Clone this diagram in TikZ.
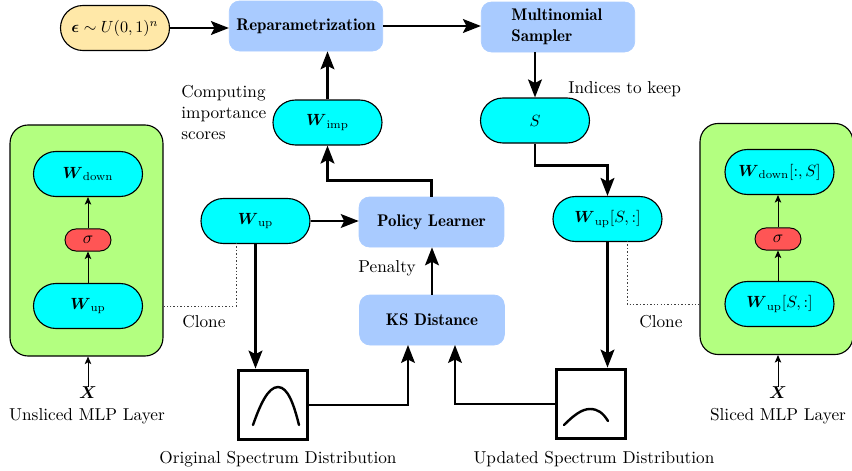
\documentclass[tikz,border=0pt]{standalone}
\usepackage{amsmath}
\usetikzlibrary{arrows.meta,calc}
\definecolor{pillblue}{HTML}{A9CBFF}
\definecolor{panelgreen}{HTML}{B3FF80}
\definecolor{sigred}{HTML}{FF5555}
\definecolor{noiseyellow}{HTML}{FFE8A8}
\definecolor{pillcyan}{HTML}{00FFFF}
\newcommand{\bW}{\boldsymbol{W}}
\newcommand{\pillmath}[1]{\scalebox{0.94}{$#1$}}
\tikzset{
  pill/.style={draw=black,line width=0.65pt,fill=pillcyan,rounded corners=13pt,minimum width=63.2pt,minimum height=26.1pt,inner sep=0pt},
  noisepill/.style={pill,fill=noiseyellow},
  blockbox/.style={fill=pillblue,draw=pillblue,rounded corners=6pt,minimum width=89pt,minimum height=29pt,inner sep=0pt,font=\fontsize{9.8}{12}\fontseries{b}\selectfont,align=left},
  smallblock/.style={blockbox,minimum width=84pt},
  panel/.style={draw=black,line width=0.65pt,fill=panelgreen,rounded corners=10.5pt,minimum width=88.7pt,minimum height=134pt,inner sep=0pt},
  activ/.style={draw=black,line width=0.55pt,fill=sigred,rounded corners=6.4pt,minimum width=26.7pt,minimum height=12.8pt,inner sep=0pt},
  plotbox/.style={draw=black,line width=1.75pt,fill=white,minimum width=40.5pt,minimum height=40.5pt,inner sep=0pt},
  bigarrow/.style={line width=1.4pt,-{Stealth[length=10.4pt,width=8pt,inset=2pt]}},
  smallarrow/.style={line width=0.5pt,-{Stealth[length=4.4pt,width=3.8pt,inset=1.1pt]}},
  clonelink/.style={line width=0.55pt,dash pattern=on 0.8pt off 1.2pt,draw=black!75},
  curve/.style={line width=1.4pt,line cap=round},
  caption/.style={inner sep=0pt}
}
\begin{document}
\begin{tikzpicture}[x=0.58pt,y=-0.58pt]
\useasboundingbox (0,0) rectangle (852,471);
% panels
\node[panel] (lpanel) at (86.5,240.5) {};
\node[panel] (rpanel) at (776.5,239) {};
% top row
\node[noisepill] (eps) at (115,28) {\pillmath{\boldsymbol{\epsilon}\sim U(0,1)^n}};
\node[blockbox] (rep) at (306,26) {Reparametrization};
\node[blockbox,text width=54pt] (multi) at (558,27) {Multinomial\\Sampler};
% pills
\node[pill] (wimp) at (327.5,122.5) {\pillmath{\bW_{\mathrm{imp}}}};
\node[pill] (s) at (535,120.5) {\pillmath{S}};
\node[pill] (wup) at (255.5,221) {\pillmath{\bW_{\mathrm{up}}}};
\node[pill] (wups) at (607.5,219) {\pillmath{\bW_{\mathrm{up}}[S,:]}};
\node[smallblock] (policy) at (431.5,222) {Policy Learner};
\node[smallblock] (ks) at (432,320) {KS Distance};
% left panel contents
\node[pill] (ldown) at (88,174) {\pillmath{\bW_{\mathrm{down}}}};
\node[activ] (lsig) at (88,240) {$\sigma$};
\node[pill] (lup) at (88,306) {\pillmath{\bW_{\mathrm{up}}}};
\node[caption] (lx) at (88,393) {$\boldsymbol{X}$};
\node[caption] (lcap) at (87,416) {Unsliced MLP Layer};
% right panel contents
\node[pill] (rdown) at (779.5,172) {\pillmath{\bW_{\mathrm{down}}[:,S]}};
\node[activ] (rsig) at (778,239) {$\sigma$};
\node[pill] (rup) at (779.5,304) {\pillmath{\bW_{\mathrm{up}}[S,:]}};
\node[caption] (rx) at (778,393) {$\boldsymbol{X}$};
\node[caption] (rcap) at (778,416) {Sliced MLP Layer};
% spectrum boxes
\node[plotbox] (box1) at (273,405) {};
\node[plotbox] (box2) at (591,404) {};
\draw[curve] (253,425) .. controls (260,405) and (268,387) .. (278,387) .. controls (288,387) and (294,405) .. (299,425);
\draw[curve] (564,425) .. controls (574,415) and (582,409) .. (590,409) .. controls (598,409) and (603,413) .. (608,421);
% texts
\node[caption,anchor=west,align=left] (cimp) at (181,112.5) {Computing\\importance\\scores};
\node[caption,anchor=west] (idx) at (568,89) {Indices to keep};
\node[caption,anchor=west] (pen) at (358,268) {Penalty};
\node[caption,anchor=west] (lclone) at (182,322) {Clone};
\node[caption,anchor=west] (rclone) at (639,322) {Clone};
\node[caption] (ocap) at (278,459) {Original Spectrum Distribution};
\node[caption] (ucap) at (594,459) {Updated Spectrum Distribution};
% junction points on KS
\coordinate (ksleft) at (408,345);
\coordinate (ksright) at (455,345);
\coordinate (ldot) at (236,243);
\coordinate (rdot) at (627,241);
% thick connectors
\draw[bigarrow] (eps) -- (eps -| rep.west);
\draw[bigarrow] (rep) -- (rep -| multi.west);
\draw[bigarrow] (multi.south -| s.north) -- (s.north);
\draw[bigarrow] (s.south) -- ++(0,22) -| (wups.north);
\draw[bigarrow] (wimp.north) -- (wimp.north |- rep.south);
\draw[bigarrow] (policy.north) -- ++(0,-16) -| (wimp.south);
\draw[bigarrow] (wup) -- (wup -| policy.west);
\draw[bigarrow] (ks.north) -- (ks.north |- policy.south);
\draw[bigarrow] (wup.south) -- (wup.south |- box1.north);
\draw[bigarrow] (wups.south) -- (wups.south |- box2.north);
\draw[bigarrow] (box1.east) -| (ksleft);
\draw[bigarrow] (box2.west) -| (ksright);
% clone links
\draw[clonelink] (ldot) |- (lpanel.east |- lup);
\draw[clonelink] (rdot) |- (rpanel.west |- rup);
% small connectors
\draw[smallarrow] (lup.north) -- (lsig.south);
\draw[smallarrow] (lsig.north) -- (ldown.south);
\draw[smallarrow] (lx.north) -- (lx.north |- lpanel.south);
\draw[smallarrow] (rup.north -| rsig) -- (rsig.south);
\draw[smallarrow] (rsig.north) -- (rsig.north |- rdown.south);
\draw[smallarrow] (rx.north) -- (rx.north |- rpanel.south);
\end{tikzpicture}
\end{document}
